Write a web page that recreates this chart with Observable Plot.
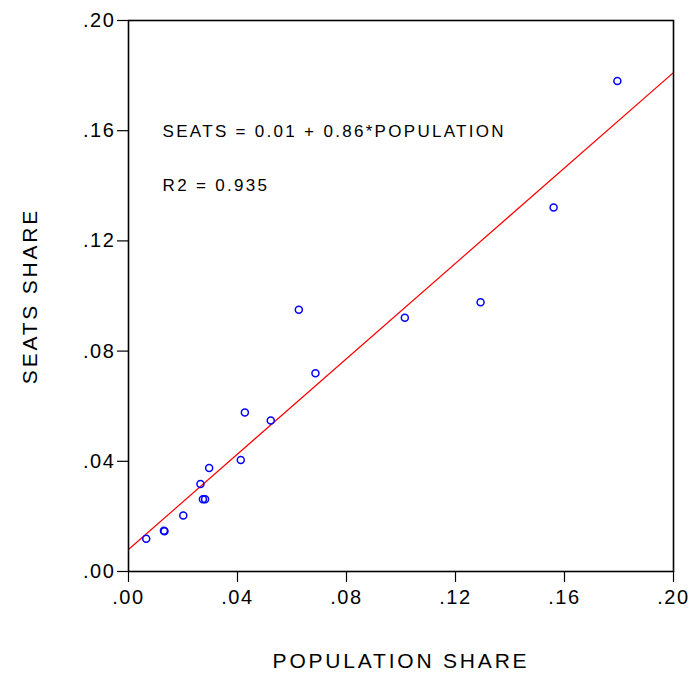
<!DOCTYPE html>
<html><head><meta charset="utf-8">
<script src="https://cdn.jsdelivr.net/npm/d3@7"></script>
<script src="https://cdn.jsdelivr.net/npm/@observablehq/plot@0.6"></script>
<style>
body{margin:0;background:#fff}
g[aria-label="x-axis tick label"] text, g[aria-label="y-axis tick label"] text{letter-spacing:1.6px}
g[aria-label="x-axis label"] text, g[aria-label="y-axis label"] text{letter-spacing:2.8px}
g[aria-label="text"] text{letter-spacing:2.3px}
</style>
</head><body><div id="chart"></div>
<script>
const population = [0.0065, 0.0130, 0.0132, 0.0201, 0.0264, 0.0273, 0.0281, 0.0296, 0.0412, 0.0427, 0.0522, 0.0686, 0.0625, 0.1014, 0.1292, 0.1560, 0.1794];
const seats      = [0.0119, 0.0148, 0.0146, 0.0203, 0.0318, 0.0262, 0.0262, 0.0376, 0.0405, 0.0577, 0.0548, 0.0720, 0.0950, 0.0921, 0.0977, 0.1321, 0.1780];
const tickValues = [0, 0.04, 0.08, 0.12, 0.16, 0.20];
const fitIntercept = 0.008;
const fitSlope = 0.8655;
const fitRange = [0, 0.20];
const equationText = "SEATS = 0.01 + 0.86*POPULATION";
const r2Text = "R2 = 0.935";
const notePosition = {x: 0.0125, yEq: 0.1596, yR2: 0.1401};

const points = population.map((p, i) => ({x: p, y: seats[i]}));
const fit = fitRange.map(x => ({x, y: fitIntercept + fitSlope * x}));
const fmt = d => d.toFixed(2).replace(/^0/, "");

const chart = Plot.plot({
  width: 695, height: 680,
  marginLeft: 128, marginRight: 22, marginTop: 20, marginBottom: 109,
  style: {fontFamily: "'Liberation Sans', Arial, sans-serif", fontSize: "20px", color: "#000", background: "#fff", overflow: "visible"},
  x: {domain: [0, 0.2], ticks: tickValues, tickFormat: fmt, label: null},
  y: {domain: [0, 0.2], ticks: tickValues, tickFormat: fmt, label: null},
  marks: [
    Plot.axisX({ticks: tickValues, tickFormat: fmt, tickSize: 11, tickPadding: 7, fontSize: 20, label: "POPULATION SHARE", labelAnchor: "center", labelArrow: "none", labelOffset: 96, strokeWidth: 1.2}),
    Plot.axisY({ticks: tickValues, tickFormat: fmt, tickSize: 11, tickPadding: 2, fontSize: 20, label: "SEATS SHARE", labelAnchor: "center", labelArrow: "none", labelOffset: 106, strokeWidth: 1.2}),
    Plot.line(fit, {x: "x", y: "y", stroke: "#ff0000", strokeWidth: 1.2, clip: true}),
    Plot.dot(points, {x: "x", y: "y", r: 3.5, stroke: "#0000ff", strokeWidth: 1.5, fill: "none"}),
    Plot.text([equationText], {x: notePosition.x, y: notePosition.yEq, text: d => d, textAnchor: "start", fontSize: 17}),
    Plot.text([r2Text], {x: notePosition.x, y: notePosition.yR2, text: d => d, textAnchor: "start", fontSize: 17}),
    Plot.frame({stroke: "#000", strokeWidth: 1.6})
  ]
});
chart.querySelectorAll('g[aria-label="x-axis label"] text, g[aria-label="y-axis label"] text').forEach(t => t.setAttribute("font-size", 21));
document.getElementById("chart").appendChild(chart);
</script>
</body></html>
